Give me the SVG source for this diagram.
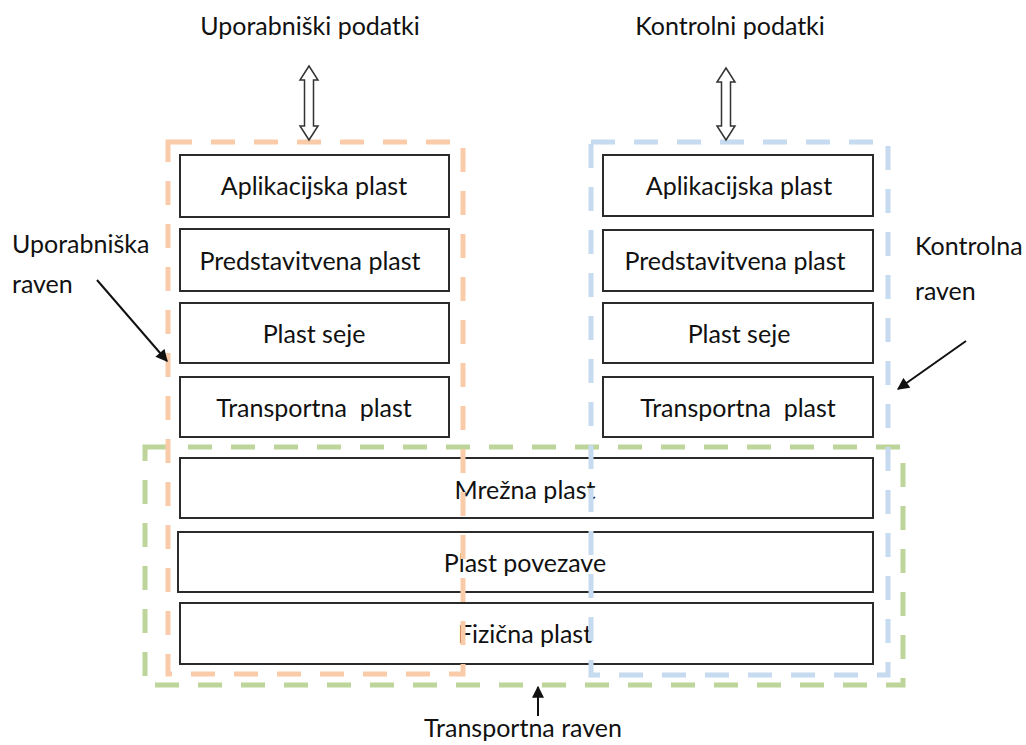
<svg xmlns="http://www.w3.org/2000/svg" width="1026" height="745" viewBox="0 0 1026 745">
  <style>
    .layer { fill: #ffffff; stroke: #2b2b2b; stroke-width: 2; }
    .lbl { font-family: Lato, "Liberation Sans", sans-serif; font-size: 25px; fill: #111111; text-anchor: middle; }
    .side { font-family: Lato, "Liberation Sans", sans-serif; font-size: 25px; fill: #111111; }
    .plane { fill: none; stroke-width: 5; stroke-dasharray: 24 19; }
    .ptr { stroke: #111111; stroke-width: 2; fill: none; marker-end: url(#tip); }
    .io { fill: #ffffff; stroke: #333333; stroke-width: 1.5; }
  </style>
  <defs>
    <marker id="tip" viewBox="0 0 10 10" refX="9" refY="5" markerWidth="13" markerHeight="12" orient="auto" markerUnits="userSpaceOnUse">
      <path d="M0,0 L10,5 L0,10 Z" fill="#111111"/>
    </marker>
  </defs>

  <!-- user-plane stack -->
  <g id="u-app"><rect class="layer" x="180" y="155" width="269" height="62"/><text class="lbl" x="314" y="195">Aplikacijska plast</text></g>
  <g id="u-pres"><rect class="layer" x="180" y="229" width="269" height="62"/><text class="lbl" x="310" y="270">Predstavitvena plast</text></g>
  <g id="u-sess"><rect class="layer" x="180" y="303" width="269" height="60"/><text class="lbl" x="314" y="343">Plast seje</text></g>
  <g id="u-trans"><rect class="layer" x="180" y="377" width="269" height="60"/><text class="lbl" x="314" y="417" xml:space="preserve">Transportna  plast</text></g>

  <!-- control-plane stack -->
  <g id="c-app"><rect class="layer" x="603" y="155" width="270" height="61"/><text class="lbl" x="739" y="195">Aplikacijska plast</text></g>
  <g id="c-pres"><rect class="layer" x="603" y="230" width="270" height="61"/><text class="lbl" x="735" y="270">Predstavitvena plast</text></g>
  <g id="c-sess"><rect class="layer" x="603" y="303" width="270" height="60"/><text class="lbl" x="739" y="343">Plast seje</text></g>
  <g id="c-trans"><rect class="layer" x="603" y="377" width="270" height="60"/><text class="lbl" x="738" y="417" xml:space="preserve">Transportna  plast</text></g>

  <!-- shared lower layers -->
  <g id="network"><rect class="layer" x="180" y="458" width="693" height="60"/><text class="lbl" x="525" y="499">Mrežna plast</text></g>
  <g id="link"><rect class="layer" x="178" y="532" width="695" height="60"/><text class="lbl" x="525" y="572">Plast povezave</text></g>
  <g id="physical"><rect class="layer" x="180" y="603" width="693" height="61"/><text class="lbl" x="525" y="643">Fizična plast</text></g>

  <!-- planes -->
  <g id="planes">
    <rect class="plane" x="145" y="447" width="758" height="238" stroke="#BDD59A"/>
    <rect class="plane" x="168" y="142" width="295" height="532" stroke="#F9CBA8"/>
    <rect class="plane" x="591" y="142" width="297" height="533" stroke="#C6DAF0"/>
  </g>

  <!-- titles and plane labels -->
  <g id="titles">
    <text class="lbl" x="310" y="35">Uporabniški podatki</text>
    <text class="lbl" x="730" y="35">Kontrolni podatki</text>
    <text class="side" x="12" y="253">Uporabniška</text>
    <text class="side" x="12" y="293">raven</text>
    <text class="side" x="915" y="255">Kontrolna</text>
    <text class="side" x="915" y="300">raven</text>
    <text class="lbl" x="523" y="737">Transportna raven</text>
  </g>

  <!-- connectors -->
  <g id="connectors">
    <path class="io" d="M309,66 L318,80 L313.5,80 L313.5,126 L318,126 L309,140 L300,126 L304.5,126 L304.5,80 L300,80 Z"/>
    <path class="io" d="M726,68 L735,82 L730.5,82 L730.5,126 L735,126 L726,140 L717,126 L721.5,126 L721.5,82 L717,82 Z"/>
    <line class="ptr" x1="97" y1="280" x2="167" y2="361"/>
    <line class="ptr" x1="966" y1="341" x2="898" y2="389"/>
    <line class="ptr" x1="538" y1="716" x2="538" y2="687"/>
  </g>
</svg>
